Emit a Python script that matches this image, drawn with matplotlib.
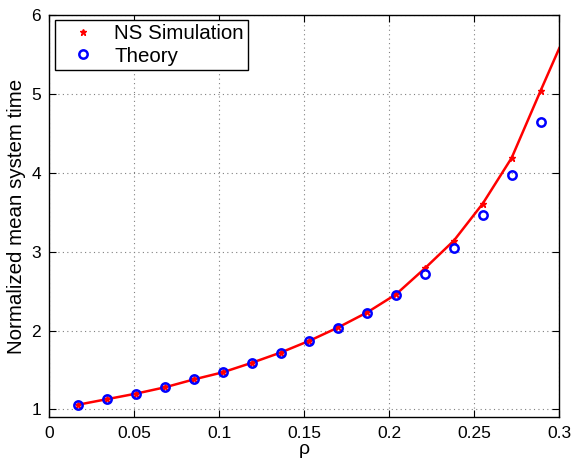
import matplotlib.pyplot as plt

plt.rcParams['font.family'] = ['Liberation Sans', 'DejaVu Sans']

# data
rho = [0.017, 0.034, 0.051, 0.068, 0.085, 0.102, 0.119, 0.136, 0.153,
       0.170, 0.187, 0.204, 0.221, 0.238, 0.255, 0.272, 0.289]
ns_sim = [1.06, 1.13, 1.20, 1.28, 1.38, 1.47, 1.59, 1.72, 1.87,
          2.04, 2.23, 2.46, 2.79, 3.14, 3.61, 4.19, 5.04]
theory = [1.06, 1.13, 1.20, 1.28, 1.38, 1.47, 1.59, 1.72, 1.87,
          2.03, 2.22, 2.45, 2.72, 3.05, 3.46, 3.97, 4.64]
# red curve continues to the edge of the plot
curve_rho = rho + [0.3]
curve_val = ns_sim + [5.58]

xticks = [0, 0.05, 0.1, 0.15, 0.2, 0.25, 0.3]
xticklabels = ['0', '0.05', '0.1', '0.15', '0.2', '0.25', '0.3']
yticks = [1, 2, 3, 4, 5, 6]

fig = plt.figure(figsize=(5.74, 4.61), dpi=100)
ax = fig.add_axes([0.0859, 0.0948, 0.8885, 0.8727])

ax.plot(curve_rho, curve_val, color='red', linewidth=1.8, zorder=2)
ax.plot(rho, ns_sim, linestyle='none', marker='*', color='red',
        markersize=5, label='NS Simulation', zorder=3)
ax.plot(rho, theory, linestyle='none', marker='o', markerfacecolor='none',
        markeredgecolor='blue', markeredgewidth=1.8, markersize=6,
        label='Theory', zorder=4)

ax.set_xlim(0, 0.3)
ax.set_ylim(0.9, 6)
ax.set_xticks(xticks)
ax.set_xticklabels(xticklabels)
ax.set_yticks(yticks)

ax.tick_params(direction='in', top=True, right=True, labelsize=12.5,
               length=5, width=0.8, pad=6)
ax.grid(True, linestyle=(0, (1, 3)), color='0.5', linewidth=0.8)
for s in ax.spines.values():
    s.set_linewidth(1.0)

ax.set_xlabel('ρ', fontsize=14, labelpad=0)
ax.set_ylabel('Normalized mean system time', fontsize=14.8, labelpad=4)

leg = ax.legend(loc='upper left', fontsize=14.8, fancybox=False,
                edgecolor='black', framealpha=1, borderaxespad=0.26,
                handletextpad=0.3, handlelength=2.4, labelspacing=0.15,
                borderpad=0.2)
leg.get_frame().set_linewidth(1.0)

fig.savefig('out.png', dpi=100)
